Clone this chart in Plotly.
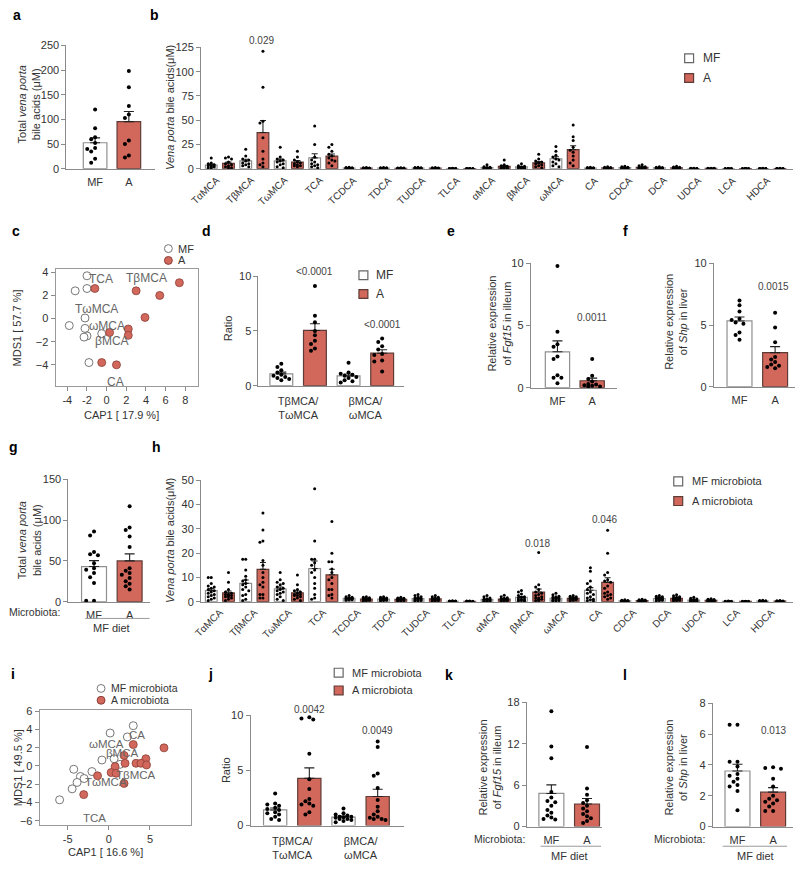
import numpy as np
import plotly.graph_objects as go

W, H = 800, 869
FONT = "Liberation Sans, Arial, sans-serif"
RED = "#d2675b"
RED_LINE = "#5e3b37"
MF_LINE = "#8f8f8f"
AX = "#8a8a8a"
TXT = "#333333"

BILE_ACIDS = ["TαMCA", "TβMCA", "TωMCA", "TCA", "TCDCA", "TDCA", "TUDCA", "TLCA",
              "αMCA", "βMCA", "ωMCA", "CA", "CDCA", "DCA", "UDCA", "LCA", "HDCA"]
GROUPS = ["MF", "A"]
RATIO_LABELS = ["TβMCA/<br>TωMCA", "βMCA/<br>ωMCA"]

# ---- a: total vena porta bile acids (uM)
a_mf = [120, 82, 64, 60, 52, 42, 40, 35, 20, 12]
a_a = [198, 165, 127, 110, 103, 57, 50, 27, 23]

# ---- b: individual bile acids, MF vs A diet (one list per bile acid)
b_mf = [
    [11, 6, 5, 4, 3, 3, 2, 2, 1, 1],
    [20, 13, 10, 9, 8, 6, 5, 4, 3, 2],
    [22, 12, 10, 9, 8, 7, 5, 4, 2, 1],
    [44, 25, 12, 9, 7, 5, 4, 3, 2, 1],
    [1.5, 1.2, 1.0, 0.9, 0.8, 0.6, 0.5, 0.4, 0.3, 0.2],
    [1.2, 1.0, 0.9, 0.7, 0.6, 0.5, 0.4, 0.3, 0.2, 0.2],
    [1.5, 1.2, 1.0, 0.8, 0.7, 0.6, 0.5, 0.4, 0.3, 0.2],
    [0.4, 0.3, 0.3, 0.2, 0.2, 0.2, 0.1, 0.1, 0.1, 0.1],
    [4, 2, 1.5, 1.2, 1, 0.8, 0.6, 0.5, 0.4, 0.3],
    [5, 3, 2.5, 2, 1.5, 1.2, 1, 0.8, 0.6, 0.4],
    [23, 18, 14, 12, 10, 9, 7, 5, 3, 2],
    [1.5, 1.2, 1.0, 0.8, 0.6, 0.5, 0.4, 0.3, 0.2, 0.2],
    [2.5, 2, 1.5, 1.2, 1, 0.8, 0.6, 0.5, 0.4, 0.3],
    [2, 1.5, 1.2, 1, 0.8, 0.6, 0.5, 0.4, 0.3, 0.2],
    [0.5, 0.4, 0.3, 0.3, 0.2, 0.2, 0.2, 0.1, 0.1, 0.1],
    [0.3, 0.2, 0.2, 0.2, 0.1, 0.1, 0.1, 0.1, 0.1, 0.1],
    [0.4, 0.3, 0.3, 0.2, 0.2, 0.2, 0.1, 0.1, 0.1, 0.1],
]
b_a = [
    [12, 11, 10, 7, 5, 4, 3, 2, 1, 1],
    [121, 84, 49, 47, 32, 18, 10, 6, 4, 2],
    [18, 12, 9, 7, 6, 5, 4, 3, 3, 2],
    [25, 22, 18, 15, 13, 11, 9, 8, 6, 3],
    [1.2, 1.0, 0.8, 0.7, 0.6, 0.5, 0.4, 0.3, 0.2, 0.2],
    [1.0, 0.8, 0.7, 0.6, 0.5, 0.4, 0.3, 0.3, 0.2, 0.1],
    [1.2, 1.0, 0.8, 0.6, 0.5, 0.4, 0.4, 0.3, 0.2, 0.2],
    [0.3, 0.3, 0.2, 0.2, 0.2, 0.1, 0.1, 0.1, 0.1, 0.1],
    [9, 4, 3, 2.5, 2, 1.5, 1.2, 1, 0.6, 0.4],
    [15, 10, 8, 7, 6, 5, 4, 3, 2, 1],
    [45, 33, 29, 22, 19, 17, 13, 9, 6, 3],
    [2, 1.5, 1.2, 1, 0.8, 0.6, 0.5, 0.4, 0.3, 0.2],
    [4, 3, 2, 1.5, 1.2, 1, 0.8, 0.6, 0.4, 0.3],
    [2.5, 1.8, 1.4, 1.1, 0.9, 0.7, 0.5, 0.4, 0.3, 0.2],
    [0.6, 0.5, 0.4, 0.3, 0.3, 0.2, 0.2, 0.1, 0.1, 0.1],
    [0.3, 0.2, 0.2, 0.1, 0.1, 0.1, 0.1, 0.1, 0.1, 0.1],
    [0.4, 0.3, 0.2, 0.2, 0.2, 0.1, 0.1, 0.1, 0.1, 0.1],
]

# ---- c: ordination (CAP1 / MDS1)
c_mf_x = [-2.0, -3.2, -2.0, -2.2, -3.8, -2.2, -2.0, -2.3, -0.5, -1.8]
c_mf_y = [3.7, 2.4, 2.6, 0.05, -0.6, -0.85, -1.5, -1.6, -1.3, -3.8]
c_a_x = [-1.2, 3.0, 5.4, 7.4, 3.9, 0.3, 2.2, 2.2, -0.5, 1.0]
c_a_y = [2.6, 2.4, 2.0, 3.1, 0.1, -1.2, -0.9, -1.45, -3.8, -4.0]
c_labels = ["TCA", "TβMCA", "TωMCA", "ωMCA", "βMCA", "CA"]
c_label_x = [-0.6, 4.1, -1.0, 0.0, 0.5, 0.9]
c_label_y = [3.4, 3.5, 0.85, -0.6, -1.9, -5.45]

# ---- d: ratios
d_mf = [[2.0, 1.7, 1.4, 1.2, 1.0, 0.9, 0.8, 0.7, 0.6, 0.5],
        [2.1, 1.2, 1.1, 1.0, 0.9, 0.8, 0.7, 0.5, 0.4, 0.3]]
d_a = [[9.1, 6.4, 5.8, 5.0, 4.6, 4.1, 3.8, 3.4, 3.2],
       [4.3, 4.0, 3.6, 3.3, 2.9, 2.8, 2.3, 2.2, 1.3]]

# ---- e / f: relative expression
e_mf = [9.8, 4.5, 3.5, 3.3, 2.5, 2.3, 1.0, 0.8, 0.8, 0.35]
e_a = [2.3, 0.95, 0.7, 0.5, 0.3, 0.25, 0.2, 0.15, 0.1, 0.1]
f_mf = [7.0, 6.6, 6.1, 5.5, 5.4, 5.2, 5.1, 4.4, 4.2, 3.8]
f_a = [6.0, 4.8, 3.6, 2.4, 2.2, 2.0, 1.8, 1.7, 1.6, 1.5]

# ---- g: total bile acids, microbiota transfer
g_mf = [86, 81, 61, 58, 57, 47, 41, 39, 35, 30, 23, 1, 1]
g_a = [117, 91, 88, 80, 67, 41, 38, 35, 33, 29, 25, 22, 19, 15]

# ---- h: individual bile acids, microbiota transfer
h_mf = [
    [10, 10, 7.5, 6.5, 6, 5.5, 5, 4.5, 4, 3.5, 3, 2.5, 2, 1.5, 1, 0.5],
    [17.5, 17.5, 13, 10.5, 9, 8.5, 7.5, 7, 6, 5, 4.5, 3, 2.5, 1, 0.5],
    [12, 9, 8, 7.5, 7, 6, 5.5, 5, 4.5, 4, 3.5, 3, 2, 1, 0.5],
    [46.5, 25, 17.5, 17.5, 16, 15, 13, 12, 10, 7.5, 5.5, 3, 1.5, 1],
    [2.5, 2, 1.8, 1.6, 1.5, 1.4, 1.3, 1.2, 1.1, 1, 0.9, 0.8, 0.7, 0.6],
    [2, 1.8, 1.5, 1.4, 1.3, 1.2, 1.1, 1, 0.9, 0.8, 0.7, 0.6, 0.5, 0.4],
    [3, 2.5, 2, 1.8, 1.5, 1.3, 1.2, 1, 0.9, 0.8, 0.6, 0.5, 0.4, 0.3],
    [0.4, 0.3, 0.3, 0.2, 0.2, 0.2, 0.2, 0.1, 0.1, 0.1, 0.1, 0.1, 0.1, 0.1],
    [2.5, 2, 1.5, 1.2, 1, 0.9, 0.8, 0.7, 0.6, 0.5, 0.4, 0.3, 0.2, 0.2],
    [4.6, 4, 3.2, 2.5, 2, 1.8, 1.5, 1.2, 1, 0.8, 0.6, 0.5, 0.4, 0.3],
    [3.5, 2.8, 2.2, 2, 1.8, 1.5, 1.3, 1.1, 1, 0.8, 0.6, 0.5, 0.4, 0.3],
    [14, 12.5, 8.5, 7.5, 6, 5, 4, 3.5, 3, 2, 1.5, 1, 0.8, 0.5, 0.3],
    [0.8, 0.6, 0.5, 0.4, 0.4, 0.3, 0.3, 0.2, 0.2, 0.2, 0.1, 0.1, 0.1, 0.1],
    [2.5, 2.2, 2, 1.8, 1.6, 1.5, 1.3, 1.2, 1, 0.9, 0.8, 0.6, 0.5, 0.4],
    [1.8, 1.4, 1.1, 0.9, 0.8, 0.7, 0.6, 0.5, 0.4, 0.3, 0.3, 0.2, 0.2, 0.1],
    [0.3, 0.2, 0.2, 0.2, 0.1, 0.1, 0.1, 0.1, 0.1, 0.1, 0.1, 0.1, 0.1, 0.1],
    [0.6, 0.5, 0.4, 0.3, 0.3, 0.2, 0.2, 0.2, 0.1, 0.1, 0.1, 0.1, 0.1, 0.1],
]
h_a = [
    [12, 8, 5, 4, 3.5, 3, 3, 2.5, 2.5, 2, 2, 1.5, 1, 0.5],
    [36.5, 29.5, 25, 24.5, 17, 15, 12, 10, 8, 7, 6, 3, 3, 1.5, 1.5],
    [11, 7, 5, 4.5, 4, 3.5, 3, 3, 2.5, 2.5, 2, 1.5, 1, 0.5],
    [33, 20, 16.5, 16.5, 13.5, 12, 10, 9, 7.5, 5, 5, 3, 2.5, 1.5],
    [2, 1.8, 1.6, 1.4, 1.3, 1.2, 1.1, 1, 0.9, 0.8, 0.7, 0.6, 0.5, 0.4],
    [1.8, 1.5, 1.4, 1.3, 1.2, 1.1, 1, 0.9, 0.8, 0.7, 0.6, 0.5, 0.4, 0.3],
    [2.5, 2, 1.8, 1.6, 1.4, 1.2, 1.1, 1, 0.9, 0.8, 0.7, 0.5, 0.4, 0.3],
    [0.3, 0.3, 0.2, 0.2, 0.2, 0.1, 0.1, 0.1, 0.1, 0.1, 0.1, 0.1, 0.1, 0.1],
    [2.6, 2, 1.6, 1.4, 1.2, 1.1, 1, 0.9, 0.8, 0.7, 0.6, 0.5, 0.4, 0.3],
    [20.3, 7, 6, 5, 4, 3.5, 3, 2.5, 2, 1.5, 1.5, 1, 1, 0.5, 0.5],
    [2.5, 2.2, 2, 1.8, 1.6, 1.5, 1.4, 1.3, 1.2, 1, 0.9, 0.8, 0.6, 0.5],
    [29.4, 20, 12, 11, 9, 8.5, 8, 6.5, 5.5, 4, 3.5, 3, 2.5, 2, 1.5, 1],
    [1, 0.8, 0.7, 0.6, 0.5, 0.5, 0.4, 0.3, 0.3, 0.2, 0.2, 0.1, 0.1, 0.1],
    [2.8, 2.4, 2, 1.8, 1.6, 1.5, 1.4, 1.2, 1, 0.9, 0.8, 0.6, 0.5, 0.4],
    [1.2, 1, 0.9, 0.8, 0.7, 0.6, 0.5, 0.4, 0.3, 0.3, 0.2, 0.2, 0.1, 0.1],
    [0.2, 0.2, 0.2, 0.1, 0.1, 0.1, 0.1, 0.1, 0.1, 0.1, 0.1, 0.1, 0.1, 0.1],
    [0.5, 0.4, 0.3, 0.3, 0.2, 0.2, 0.2, 0.1, 0.1, 0.1, 0.1, 0.1, 0.1, 0.1],
]

# ---- i: ordination, microbiota transfer
i_mf_x = [2.97, 0.16, 2.25, -0.84, 0.64, 1.37, -4.26, -2.05, -3.45, -3.0, -3.86, -4.46, -5.98]
i_mf_y = [4.4, 3.6, 3.17, 0.65, 0.79, 0.18, -0.36, -0.61, -1.15, -1.37, -1.8, -2.5, -3.7]
i_a_x = [2.97, 6.7, 1.85, 1.97, 4.5, 3.3, 3.9, 4.58, 0.76, 0.28, 0.88, -1.37, 1.85, -3.05]
i_a_y = [2.34, 1.98, 1.15, 0.29, 0.79, 0.29, 0.29, 0.11, -0.07, -0.72, -0.8, -1.08, -1.91, -3.13]
i_labels = ["CA", "ωMCA", "βMCA", "TβMCA", "TωMCA", "TCA"]
i_label_x = [3.4, -0.25, 1.55, 3.25, -0.35, -1.8]
i_label_y = [3.35, 2.4, 1.4, -1.0, -1.7, -5.7]

# ---- j: ratios, microbiota transfer
j_mf = [[2.9, 2.0, 1.9, 1.8, 1.6, 1.5, 1.4, 1.2, 1.1, 1.0, 0.8, 0.6, 0.5],
        [1.55, 1.1, 1.0, 0.9, 0.8, 0.8, 0.75, 0.7, 0.6, 0.6, 0.5, 0.4, 0.3]]
j_a = [[9.8, 9.7, 9.6, 6.5, 4.2, 3.3, 2.4, 2.2, 2.0, 1.9, 1.8, 1.2, 1.0],
       [7.6, 7.1, 4.7, 4.5, 3.4, 2.3, 1.7, 1.3, 1.0, 0.8, 0.7, 0.6, 0.6, 0.5]]

# ---- k / l: relative expression, microbiota transfer
k_mf = [16.7, 11.6, 9.9, 5.0, 4.2, 3.7, 3.5, 3.0, 2.4, 2.0, 1.6, 1.3, 1.1, 1.0]
k_a = [11.5, 5.5, 4.6, 3.8, 3.4, 3.0, 2.6, 2.2, 1.8, 1.5, 1.2, 0.8, 0.5]
l_mf = [6.6, 6.6, 4.2, 4.2, 3.9, 3.4, 3.3, 3.1, 2.9, 2.7, 2.6, 2.3, 1.05]
l_a = [3.85, 3.8, 3.75, 3.1, 2.6, 2.0, 1.8, 1.7, 1.6, 1.5, 1.3, 1.0, 1.0]


fig = go.Figure()
layout = {}
annotations = []
shapes = []


def px(x, y):
    return x / W, 1 - y / H


def set_axes(k, box, xr, yr, xtick=None, ytick=None, boxed=False, standoff=None,
             xfont=11, tickangle=None):
    x0, x1, y0, y1 = box
    sfx = "" if k == 1 else str(k)
    xa = dict(domain=[x0 / W, x1 / W], range=xr, anchor=f"y{sfx}",
              showgrid=False, zeroline=False, showline=True, linecolor=AX,
              linewidth=1, tickfont=dict(size=xfont, color=TXT), fixedrange=True)
    if standoff is not None:
        xa["ticklabelstandoff"] = standoff
    if tickangle is not None:
        xa["tickangle"] = tickangle
    ya = dict(domain=[1 - y1 / H, 1 - y0 / H], range=yr, anchor=f"x{sfx}",
              showgrid=False, zeroline=False, showline=True, linecolor=AX,
              linewidth=1, ticks="outside", ticklen=4, tickcolor=AX,
              tickfont=dict(size=11, color=TXT), fixedrange=True)
    if xtick is not None:
        xa["tickvals"], xa["ticktext"] = xtick
    else:
        xa["showticklabels"] = False
    if ytick is not None:
        ya["tickvals"] = ytick
    if boxed:
        xa.update(mirror=True, ticks="outside", ticklen=4, tickcolor=AX,
                  linecolor="#9a9a9a")
        ya.update(mirror=True, linecolor="#9a9a9a")
    else:
        xa["ticks"] = ""
    layout[f"xaxis{sfx}"] = xa
    layout[f"yaxis{sfx}"] = ya
    return f"x{sfx}", f"y{sfx}"


def swarm(vals, xc, xpx, ypx, dot, maxw):
    """Spread dots sideways so that they do not sit on top of each other."""
    step = dot * 0.9
    cands = [0.0]
    n = 1
    while n * step <= maxw:
        cands += [-n * step, n * step]
        n += 1
    placed, out = [], []
    for v in vals:
        yp = v * ypx
        best, best_d = 0.0, -1.0
        for off in cands:
            dmin = min([np.hypot(off - po, yp - pv) for po, pv in placed] or [1e9])
            if dmin >= dot:
                best = off
                break
            if dmin > best_d:
                best, best_d = off, dmin
        placed.append((best, yp))
        out.append(xc + best / xpx)
    return out


def bars(xref, yref, box, xr, yr, pos, lists, fill, line, bw, dot, cap):
    xpx = (box[1] - box[0]) / (xr[1] - xr[0])
    ypx = (box[3] - box[2]) / (yr[1] - yr[0])
    means = [float(np.mean(v)) for v in lists]
    sems = [float(np.std(v, ddof=1) / np.sqrt(len(v))) for v in lists]
    fig.add_trace(go.Bar(
        x=pos, y=means, width=bw, xaxis=xref, yaxis=yref,
        marker=dict(color=fill, line=dict(color=line, width=1.2)),
        error_y=dict(type="data", array=sems, arrayminus=[0] * len(sems),
                     symmetric=False, color="#222", thickness=1.1, width=cap),
        showlegend=False, hoverinfo="skip"))
    xs, ys = [], []
    for p, v in zip(pos, lists):
        xs += swarm(v, p, xpx, ypx, dot + 0.4, bw * xpx / 2 - 1)
        ys += list(v)
    fig.add_trace(go.Scatter(
        x=xs, y=ys, mode="markers", xaxis=xref, yaxis=yref,
        marker=dict(color="black", size=dot), cliponaxis=False,
        showlegend=False, hoverinfo="skip"))


def two_group(k, box, xr, yr, yt, mf, a):
    xr_, yr_ = set_axes(k, box, xr, yr, xtick=([0, 1], GROUPS), ytick=yt, standoff=3)
    bars(xr_, yr_, box, xr, yr, [0], [mf], "white", MF_LINE, 0.7, 4, 5)
    bars(xr_, yr_, box, xr, yr, [1], [a], RED, RED_LINE, 0.7, 4, 5)


def ann(x, y, text, size=11, color=TXT, xanchor="center", angle=0, bold=False):
    if bold:
        text = f"<b>{text}</b>"
    ax, ay = px(x, y)
    annotations.append(dict(x=ax, y=ay, xref="paper", yref="paper", text=text,
                            showarrow=False, xanchor=xanchor, yanchor="middle",
                            textangle=angle, font=dict(size=size, color=color)))


def square(x, y, fill, line, s=9):
    x0, y0 = px(x - s / 2, y + s / 2)
    x1, y1 = px(x + s / 2, y - s / 2)
    shapes.append(dict(type="rect", xref="paper", yref="paper", x0=x0, x1=x1,
                       y0=y0, y1=y1, fillcolor=fill, line=dict(color=line, width=1.2)))


def circle(x, y, fill, line, r=4):
    x0, y0 = px(x - r, y + r)
    x1, y1 = px(x + r, y - r)
    shapes.append(dict(type="circle", xref="paper", yref="paper", x0=x0, x1=x1,
                       y0=y0, y1=y1, fillcolor=fill, line=dict(color=line, width=1)))


def hline(x0, x1, y):
    a0, b0 = px(x0, y)
    a1, _ = px(x1, y)
    shapes.append(dict(type="line", xref="paper", yref="paper", x0=a0, x1=a1,
                       y0=b0, y1=b0, line=dict(color="#9a9a9a", width=1)))


def ordination(k, box, xr, yr, xt, yt, mfx, mfy, ax_, ay_, labels, lx, ly, lsize):
    xref, yref = set_axes(k, box, xr, yr, xtick=(xt, [str(v) for v in xt]),
                          ytick=yt, boxed=True)
    fig.add_trace(go.Scatter(x=mfx, y=mfy, mode="markers", xaxis=xref, yaxis=yref,
                             marker=dict(color="white", size=8,
                                         line=dict(color="#777", width=1)),
                             showlegend=False, hoverinfo="skip"))
    fig.add_trace(go.Scatter(x=ax_, y=ay_, mode="markers", xaxis=xref, yaxis=yref,
                             marker=dict(color=RED, size=8,
                                         line=dict(color="#8a4038", width=0.8)),
                             showlegend=False, hoverinfo="skip"))
    for t, x, y in zip(labels, lx, ly):
        annotations.append(dict(x=x, y=y, xref=xref, yref=yref, text=t,
                                showarrow=False, font=dict(size=lsize, color="#666")))


def bile_panel(k, box, yr, yt, mf, a, as_ticks):
    nb = len(BILE_ACIDS)
    xr = [-0.546, nb - 1 + 0.63]
    if as_ticks:
        xref, yref = set_axes(k, box, xr, yr, xtick=(list(range(nb)), BILE_ACIDS),
                              ytick=yt, xfont=10, tickangle=-45)
    else:
        xref, yref = set_axes(k, box, xr, yr, ytick=yt)
        # slanted category names, ending just under each category
        for i, name in enumerate(BILE_ACIDS):
            annotations.append(dict(x=i + 0.12, y=1 - (box[3] + 3) / H, xref=xref,
                                    yref="paper", text=name, showarrow=False,
                                    textangle=-44, xanchor="right", yanchor="top",
                                    font=dict(size=10, color=TXT)))
    bars(xref, yref, box, xr, yr, [i - 0.25 for i in range(nb)], mf, "white", MF_LINE, 0.34, 3, 3)
    bars(xref, yref, box, xr, yr, [i + 0.25 for i in range(nb)], a, RED, RED_LINE, 0.34, 3, 3)


def ratio_panel(k, box, xr, yr, mf, a):
    xref, yref = set_axes(k, box, xr, yr, xtick=([0.5, 2.5], RATIO_LABELS),
                          ytick=[0, 5, 10], standoff=5)
    bars(xref, yref, box, xr, yr, [0, 2], mf, "white", MF_LINE, 0.68, 4, 5)
    bars(xref, yref, box, xr, yr, [1, 3], a, RED, RED_LINE, 0.68, 4, 5)


# ---------------- top half: diets ----------------
two_group(1, (59, 148, 40, 165), [-0.85, 1.76], [0, 250], [0, 50, 100, 150, 200, 250], a_mf, a_a)
bile_panel(2, (195, 793, 42, 165), [0, 125], [0, 25, 50, 75, 100, 125], b_mf, b_a, False)
ordination(3, (48, 192, 267, 385), [-5.2, 9.3], [-5.8, 4.26], [-4, -2, 0, 2, 4, 6, 8],
           [-4, -2, 0, 2, 4], c_mf_x, c_mf_y, c_a_x, c_a_y, c_labels, c_label_x, c_label_y, 12)
ratio_panel(4, (253, 400, 274, 385), [-0.68, 3.65], [0, 10], d_mf, d_a)
two_group(5, (528, 615, 261, 387), [-0.77, 1.71], [0, 10], [0, 5, 10], e_mf, e_a)
two_group(6, (713, 795, 261, 386), [-0.72, 1.56], [0, 10], [0, 5, 10], f_mf, f_a)

# ---------------- bottom half: microbiota transfer ----------------
two_group(7, (61, 143, 480, 604), [-0.72, 1.56], [0, 150], [0, 50, 100, 150], g_mf, g_a)
bile_panel(8, (195, 793, 481, 604), [0, 50], [0, 10, 20, 30, 40, 50], h_mf, h_a, True)
ordination(9, (32, 185, 714, 830), [-8.4, 10.0], [-6.4, 6.1], [-5, 0, 5],
           [-6, -4, -2, 0, 2, 4, 6], i_mf_x, i_mf_y, i_a_x, i_a_y, i_labels, i_label_x,
           i_label_y, 11.5)
ratio_panel(10, (245, 400, 719, 831), [-0.72, 3.77], [0, 10], j_mf, j_a)
two_group(11, (524, 600, 706, 832), [-0.69, 1.42], [0, 18], [0, 6, 12, 18], k_mf, k_a)
two_group(12, (712, 793, 707, 832), [-0.69, 1.56], [0, 8], [0, 2, 4, 6, 8], l_mf, l_a)

# panel letters
for t, x, y in [("a", 9, 9), ("b", 148, 9), ("c", 8, 228), ("d", 200, 228),
                ("e", 447, 228), ("f", 624, 228), ("g", 6, 447), ("h", 150, 447),
                ("i", 5, 677), ("j", 205, 677), ("k", 445, 678), ("l", 623, 678)]:
    ann(x, y, t, size=14, color="black", bold=True)

# axis titles
tot = "Total <i>vena porta</i><br>bile acids (μM)"
vp = "<i>Vena porta</i> bile acids(μM)"
ann(21, 100, tot, angle=-90)
ann(163, 103, vp, angle=-90)
ann(10, 326, "MDS1 [ 57.7 %]", angle=-90)
ann(115, 415, "CAP1 [ 17.9 %]")
ann(223, 327, "Ratio", angle=-90)
ann(496, 322, "Relative expression<br>of <i>Fgf15</i> in illeum", angle=-90)
ann(674, 320, "Relative expression<br>of <i>Shp</i> in liver", angle=-90)
ann(21, 542, tot, angle=-90)
ann(163, 542, vp, angle=-90)
ann(10, 772, "MDS1 [ 49.5 %]", angle=-90)
ann(98, 858, "CAP1 [ 16.6 %]")
ann(220, 775, "Ratio", angle=-90)
ann(487, 772, "Relative expression<br>of <i>Fgf15</i> in illeum", angle=-90)
ann(675, 772, "Relative expression<br>of <i>Shp</i> in liver", angle=-90)

# p values
for t, x, y in [("0.029", 256, 35), ("<0.0001", 310, 269), ("<0.0001", 378, 323),
                ("0.0011", 590, 316), ("0.0015", 773, 284), ("0.018", 535, 545),
                ("0.046", 603, 521), ("0.0042", 305, 713), ("0.0049", 373, 735),
                ("0.013", 773, 735)]:
    ann(x, y, t, size=10, color="#444")

# microbiota / diet labels
for cx, y, x0, x1, dx in [(27, 614, 78, 143, 105), (496, 845, 538, 599, 567),
                          (678, 845, 722, 787, 755)]:
    ann(cx, y, "Microbiota:", size=10.5)
    hline(x0, x1, y + 7)
    ann(dx, y + 17, "MF diet")

# legends
square(688, 53, "white", "#666")
ann(700, 53, "MF", size=12, xanchor="left")
square(688, 73, RED, RED_LINE)
ann(700, 73, "A", size=12, xanchor="left")
circle(162, 246, "white", "#777")
ann(170, 246, "MF", size=11, xanchor="left")
circle(162, 258, RED, "#8a4038")
ann(170, 258, "A", size=11, xanchor="left")
square(359, 273, "white", "#666")
ann(370, 273, "MF", size=12, xanchor="left")
square(359, 292, RED, RED_LINE)
ann(370, 292, "A", size=12, xanchor="left")
square(677, 482, "white", "#666")
ann(689, 482, "MF microbiota", xanchor="left")
square(677, 502, RED, RED_LINE)
ann(689, 502, "A microbiota", xanchor="left")
circle(94, 692, "white", "#777")
ann(102, 692, "MF microbiota", size=10.5, xanchor="left")
circle(94, 704, RED, "#8a4038")
ann(102, 704, "A microbiota", size=10.5, xanchor="left")
square(334, 676, "white", "#666")
ann(345, 676, "MF microbiota", xanchor="left")
square(334, 694, RED, RED_LINE)
ann(345, 694, "A microbiota", xanchor="left")

fig.update_layout(layout)
fig.update_layout(width=W, height=H, autosize=False, barmode="overlay",
                  margin=dict(l=0, r=0, t=0, b=0), paper_bgcolor="white",
                  plot_bgcolor="white", font=dict(family=FONT, size=11, color=TXT),
                  annotations=annotations, shapes=shapes, showlegend=False)
# the page body has a default 8px margin; drop it so the figure sits at 0,0
fig.write_html("out.html", config={"displayModeBar": False},
               post_script="document.body.style.margin='0';document.body.style.overflow='hidden';")
